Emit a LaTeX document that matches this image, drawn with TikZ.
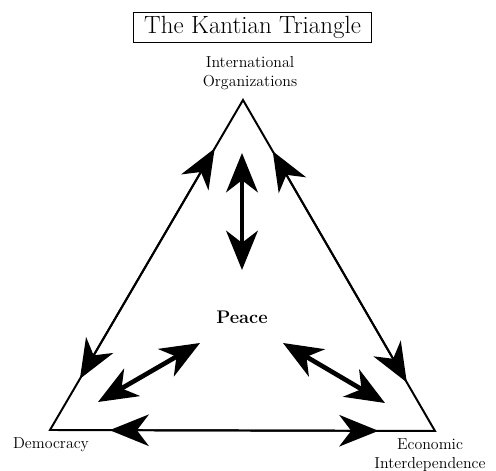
\documentclass[tikz,border=0pt]{standalone}
\usetikzlibrary{arrows.meta,calc}
\tikzset{
  head/.tip={Stealth[length=9.8mm,width=7.9mm,inset=3mm]},
  side/.style={line width=1.4pt},
  sidelink/.style={line width=1.4pt,head-head},
  link/.style={line width=3.3pt,head-head},
  corner/.style={font=\fontsize{11.3}{14}\selectfont,align=center},
}
\begin{document}
\begin{tikzpicture}[x=0.025cm,y=-0.025cm]
\useasboundingbox (0,0) rectangle (496,471);
% corners of the triangle
\coordinate (io) at (243,100);
\coordinate (dem) at (50,430);
\coordinate (eco) at (435,431);
\draw [side,line join=miter] (io) -- (dem) -- (eco) -- cycle;

\node [draw,line width=0.7pt,minimum width=5.925cm,minimum height=0.73cm,inner sep=0pt]
  (title) at (252.5,27.5) {\fontsize{17.7}{20}\selectfont The Kantian Triangle};
\node [corner] (iolabel) at (250,73) {International\\Organizations};
\node [corner] (demlabel) at (51,445) {Democracy};
\node [corner] (ecolabel) at (430,455) {Economic\\Interdependence};
\node [font=\fontsize{13}{15}\selectfont\bfseries] (peace) at (242,317) {Peace};

% arrows along the sides
\foreach \a/\b in {dem/io,io/eco,dem/eco}
  \draw [sidelink] ($(\a)!0.155!(\b)$) -- ($(\a)!0.853!(\b)$);

% arrows inside, around Peace
\coordinate (up1) at (242,153);
\coordinate (up2) at (242,270);
\coordinate (left1) at (200,343);
\coordinate (left2) at (98,402);
\coordinate (right1) at (283,343);
\coordinate (right2) at (385,403);
\foreach \p in {up,left,right}
  \draw [link] (\p1) -- (\p2);
\end{tikzpicture}
\end{document}
